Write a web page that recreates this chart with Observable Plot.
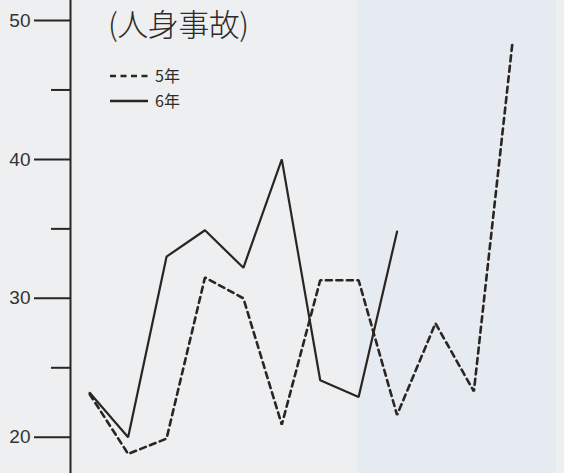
<!DOCTYPE html>
<html><head><meta charset="utf-8">
<script src="https://cdn.jsdelivr.net/npm/d3@7"></script>
<script src="https://cdn.jsdelivr.net/npm/@observablehq/plot@0.6"></script>
<style>
html,body{margin:0;padding:0;}
body{width:564px;height:473px;overflow:hidden;
  background:linear-gradient(to right,#edeff0 0px,#edeff0 357px,#e6eaf1 357px,#e6eaf1 556px,#edeff0 556px);}
#wrap{position:relative;width:564px;height:473px;}
#chart{position:absolute;left:0;top:0;}
#title{position:absolute;left:108px;top:7px;font-family:"Noto Sans CJK JP",sans-serif;font-size:31px;line-height:31px;color:#2e2a28;font-weight:300;white-space:nowrap;letter-spacing:-0.5px;}
.leg{position:absolute;left:110px;font-family:"Noto Sans CJK JP","Liberation Sans",sans-serif;font-size:16px;line-height:17px;color:#2e2a28;display:flex;align-items:center;}
.leg svg{margin-right:5px;}
</style>
</head><body>
<div id="wrap">
  <div id="chart"></div>
  <div id="title"></div>
  <div id="legend"></div>
</div>
<script>
const months = [1,2,3,4,5,6,7,8,9,10,11,12];
const r5 = [23.1, 18.8, 19.9, 31.5, 30.0, 20.9, 31.3, 31.3, 21.6, 28.2, 23.3, 48.3];
const r6 = [23.2, 20.0, 33.0, 34.9, 32.2, 40.0, 24.1, 22.9, 34.8];
const majorTicks = [20, 30, 40, 50];
const minorTicks = [25, 35, 45];
const seriesNames = ["5年", "6年"];
const titleText = "(人身事故)";

const d5 = months.map((m, i) => ({m, v: r5[i]}));
const d6 = r6.map((v, i) => ({m: months[i], v}));
const ink = "#2b2522";

const plot = Plot.plot({
  width: 564,
  height: 473,
  marginLeft: 70,
  marginRight: 33,
  marginTop: 0,
  marginBottom: 0,
  x: {domain: [0.5, 12.5], axis: null},
  y: {domain: [17.39, 51.44], label: null},
  style: {background: "transparent", fontFamily: "'Liberation Sans', Arial, sans-serif", fontSize: "19px", color: ink},
  marks: [
    Plot.frame({anchor: "left", stroke: ink, strokeWidth: 2}),
    Plot.axisY({ticks: majorTicks, tickSize: 36, tickPadding: 4, strokeWidth: 2, stroke: ink, fill: "#333", fontSize: 19, label: null}),
    Plot.axisY({ticks: minorTicks, tickSize: 19, tickFormat: () => "", strokeWidth: 2, stroke: ink, label: null}),
    Plot.line(d5, {x: "m", y: "v", stroke: ink, strokeWidth: 2.6, strokeDasharray: "6,4.5", strokeLinejoin: "miter"}),
    Plot.line(d6, {x: "m", y: "v", stroke: ink, strokeWidth: 2.2, strokeLinejoin: "miter"})
  ]
});
document.getElementById("chart").appendChild(plot);
document.getElementById("title").textContent = titleText;

const leg = document.getElementById("legend");
const styles = [{dash: "6,4.5", top: 67}, {dash: null, top: 92}];
seriesNames.forEach((name, i) => {
  const div = document.createElement("div");
  div.className = "leg";
  div.style.top = styles[i].top + "px";
  div.innerHTML = `<svg width="40" height="17"><line x1="0" x2="38" y1="9" y2="9" stroke="${ink}" stroke-width="2.5" ${styles[i].dash ? `stroke-dasharray="${styles[i].dash}"` : ""}/></svg><span>${name}</span>`;
  leg.appendChild(div);
});
</script>
</body></html>
